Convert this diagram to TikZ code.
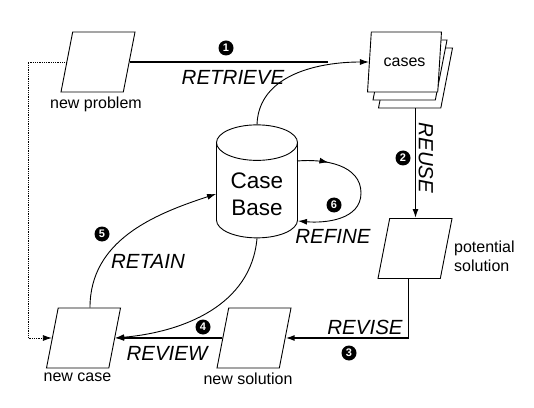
\documentclass[tikz,border=0pt]{standalone}
\usepackage{fontspec}
\setmainfont{Liberation Sans}
\usetikzlibrary{arrows.meta,shapes.geometric,positioning,decorations.markings}

\begin{document}
\begin{tikzpicture}[x=1pt, y=1pt,
    sheet/.style = {trapezium, trapezium left angle=77, trapezium right angle=103,
        trapezium stretches=true, draw, fill=white, line width=0.9pt,
        inner sep=1pt, minimum width=74pt, minimum height=60pt},
    lbl/.style = {font=\fontsize{16}{19}\selectfont},
    proc/.style = {font=\fontsize{20.5}{24}\selectfont\itshape},
    badge/.style = {circle, fill=black, text=white, inner sep=0pt,
        minimum size=15pt, font=\fontsize{11}{11}\selectfont\bfseries},
    flow/.style = {line width=1.4pt, -{Latex[length=9pt,width=6pt]}},
    curved/.style = {line width=0.9pt, -{Latex[length=9pt,width=6pt]}}]
    \useasboundingbox (0,0) rectangle (534,407);
    % case base
    \node [cylinder, shape border rotate=90, aspect=0.6, draw, line width=0.9pt,
        minimum width=81pt, minimum height=113pt, align=center,
        font=\fontsize{22.5}{27}\selectfont] (cb) at (257,213) {Case\\Base};
    % documents
    \node [sheet] (np) at (98,345) {};
    \node [lbl, below=1pt of np, xshift=-2pt] (nplbl) {new problem};
    \node [sheet] (cases3) at (415.5,329) {};
    \node [sheet] (cases2) at (410,337) {};
    \node [sheet, lbl] (cases) at (404.5,345) {cases};
    \node [sheet] (ps) at (415,158.5) {};
    \node [lbl, align=left, right=4pt of ps, yshift=-8pt] (pslbl) {potential\\solution};
    \node [sheet] (ns) at (254,69) {};
    \node [lbl, below=1pt of ns, xshift=-6pt] (nslbl) {new solution};
    \node [sheet] (nc) at (83.5,69) {};
    \node [lbl, below=1pt of nc, xshift=-6pt] (nclbl) {new case};
    % connectors
    \coordinate (rt) at (328,345);
    \draw [line width=1.2pt] (np.east) -- (rt);
    \draw [curved] (cb.north) to[out=88,in=180] (cases.west);
    \draw [flow] (cases3.south) -- (cases3.south |- ps.north);
    \draw [flow] ([xshift=-6.5pt]ps.south) |- (ns.east);
    \draw [flow] (ns.west) -- (nc.east);
    \draw [curved] (cb.south) to[out=-95,in=5] (nc.east);
    \draw [curved] ([xshift=6.5pt]nc.north) to[out=90,in=198] (cb.west);
    \coordinate (dl) at (28,69);
    \draw [densely dotted, line width=0.8pt, -{Latex[length=9pt,width=6pt]}]
        (np.west) -| (dl) -- (nc.west);
    \coordinate (rf1) at (297,246);
    \coordinate (rfr) at (361,214);
    \coordinate (rf2) at (298,186);
    \draw [curved, postaction={decorate}, decoration={markings,
        mark=at position 0.2 with {\arrow{Latex[length=9pt,width=6pt]}}}]
        (rf1) to[out=5,in=90] (rfr) to[out=-90,in=-5] (rf2);
    % steps
    \node [badge] (b1) at (226,359) {1};
    \node [badge] (b2) at (403,249) {2};
    \node [badge] (b3) at (349,54) {3};
    \node [badge] (b4) at (203,80) {4};
    \node [badge] (b5) at (102,173) {5};
    \node [badge] (b6) at (334,202) {6};
    \node [proc] (retrieve) at (233,330) {RETRIEVE};
    \node [proc, rotate=-90] (reuse) at (426,249) {REUSE};
    \node [proc] (revise) at (365,80) {REVISE};
    \node [proc] (review) at (167,54) {REVIEW};
    \node [proc] (retain) at (148,146) {RETAIN};
    \node [proc] (refine) at (333,171) {REFINE};
\end{tikzpicture}
\end{document}
